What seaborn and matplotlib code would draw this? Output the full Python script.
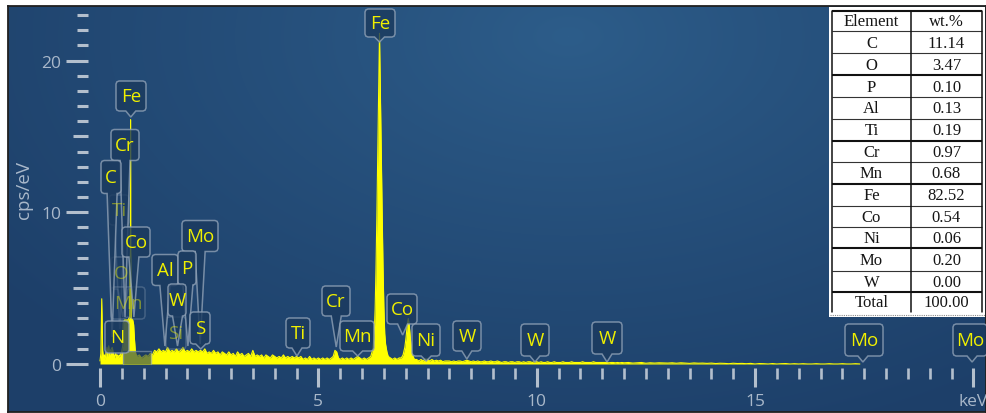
import numpy as np
import pandas as pd
import matplotlib
matplotlib.use("Agg")
import matplotlib.pyplot as plt
from matplotlib.path import Path
from matplotlib.patches import PathPatch, Rectangle
from matplotlib.transforms import IdentityTransform
from matplotlib.lines import Line2D
import seaborn as sns

# ---------------- EDS spectrum (energy in keV, intensity in cps/eV) ----------------
# zero peak and light-element region, 0.02 keV channels from 0 keV
low_start, low_step = 0.00, 0.02
counts_low = [0.2, 0.7, 4.3, 0.9, 0.4, 0.6, 0.3, 0.8, 1.1, 0.5,
              1.2, 0.6, 0.9, 1.0, 1.1, 0.8, 0.6, 0.4, 0.7, 0.5,
              0.6, 0.4, 0.6, 0.5, 0.7, 0.9]

# L-line shoulder with the narrow Fe L line
energy_feL = [0.52, 0.53, 0.56, 0.60, 0.64, 0.68, 0.69, 0.697, 0.700, 0.703,
              0.71, 0.72, 0.75, 0.77, 0.79, 0.81, 0.83]
counts_feL = [1.2, 2.7, 2.9, 2.9, 2.9, 3.1, 6.8, 7.4, 16.1, 7.4,
              6.5, 3.0, 2.9, 2.6, 1.6, 0.8, 0.6]

# continuum 0.85 - 5.20 keV, 0.05 keV channels
mid_start, mid_step = 0.85, 0.05
counts_mid = [0.5, 0.6, 0.4, 0.5, 0.6, 0.5, 0.7, 0.6, 0.9, 0.8,
              1.0, 0.8, 0.9, 0.8, 1.1, 0.8, 0.9, 0.8, 1.0, 0.8,
              0.9, 1.1, 0.8, 0.9, 0.8, 1.0, 0.8, 0.9, 0.8, 0.9,
              0.8, 1.0, 0.7, 0.8, 0.7, 0.9, 0.7, 0.8, 0.6, 0.8,
              0.7, 0.6, 0.8, 0.6, 0.7, 0.5, 0.8, 0.6, 0.7, 0.5,
              0.6, 0.7, 0.5, 0.9, 0.5, 0.6, 0.5, 0.6, 0.4, 0.6,
              0.5, 0.4, 0.6, 0.5, 0.4, 0.5, 0.4, 0.6, 0.4, 0.5,
              0.4, 0.5, 0.4, 0.5, 0.4, 0.5, 0.3, 0.4, 0.3, 0.5,
              0.3, 0.4, 0.3, 0.4, 0.3, 0.4, 0.3, 0.4]

# K-line region: Cr Ka, Mn Ka, Fe Ka, Fe Kb / Co Ka, Ni Ka
energy_k = [5.25, 5.30, 5.34, 5.38, 5.42, 5.46, 5.50, 5.55, 5.60, 5.65,
            5.70, 5.75, 5.80, 5.85, 5.90, 5.95, 6.00, 6.05, 6.10, 6.15,
            6.20, 6.24, 6.26, 6.28, 6.30, 6.32, 6.34, 6.36, 6.38, 6.40,
            6.42, 6.44, 6.46, 6.48, 6.50, 6.52, 6.54, 6.57, 6.60, 6.65,
            6.70, 6.75, 6.80, 6.85, 6.90, 6.94, 6.98, 7.01, 7.04, 7.06,
            7.08, 7.11, 7.14, 7.17, 7.20, 7.25, 7.30, 7.35, 7.40, 7.45,
            7.50, 7.55, 7.60, 7.65, 7.70, 7.75, 7.80, 7.85, 7.90, 7.95]
counts_k = [0.3, 0.4, 0.5, 0.9, 0.8, 0.4, 0.3, 0.4, 0.3, 0.4,
            0.3, 0.4, 0.3, 0.4, 0.5, 0.4, 0.3, 0.4, 0.3, 0.4,
            0.5, 0.9, 1.4, 2.0, 3.6, 6.3, 9.8, 13.9, 17.8, 21.8,
            17.9, 14.0, 10.0, 6.5, 3.8, 2.0, 1.3, 0.8, 0.5, 0.4,
            0.3, 0.4, 0.3, 0.4, 0.4, 0.6, 1.1, 1.8, 2.7, 3.0,
            2.6, 1.6, 0.8, 0.5, 0.3, 0.3, 0.2, 0.3, 0.2, 0.35,
            0.3, 0.2, 0.3, 0.2, 0.25, 0.2, 0.25, 0.15, 0.2, 0.2]

# tail 8.00 - 11.95 keV, 0.05 keV channels
tail_start, tail_step = 8.00, 0.05
counts_tail = [0.2, 0.15, 0.2, 0.15, 0.2, 0.2, 0.15, 0.2, 0.25, 0.2,
               0.15, 0.2, 0.15, 0.2, 0.15, 0.15, 0.2, 0.15, 0.15, 0.2,
               0.15, 0.15, 0.2, 0.15, 0.1, 0.15, 0.15, 0.1, 0.15, 0.15,
               0.1, 0.15, 0.15, 0.1, 0.15, 0.1, 0.15, 0.15, 0.1, 0.15,
               0.15, 0.1, 0.15, 0.1, 0.1, 0.15, 0.1, 0.1, 0.15, 0.1,
               0.1, 0.1, 0.15, 0.1, 0.1, 0.1, 0.15, 0.1, 0.1, 0.1,
               0.1, 0.15, 0.1, 0.1, 0.1, 0.1, 0.15, 0.1, 0.1, 0.1,
               0.1, 0.1, 0.1, 0.08, 0.1, 0.1, 0.08, 0.1, 0.08, 0.1]

# high-energy end 12.0 - 20.0 keV, 0.1 keV channels
high_start, high_step = 12.0, 0.1
counts_high = [0.08, 0.1, 0.06, 0.08, 0.1, 0.05, 0.08, 0.06, 0.08, 0.07,
               0.06, 0.08, 0.05, 0.08, 0.06, 0.04, 0.07, 0.05, 0.06, 0.04,
               0.06, 0.03, 0.05, 0.04, 0.02, 0.05, 0.03, 0.04, 0.02, 0.04,
               0.0, 0.03, 0.02, 0.0, 0.03, 0.0, 0.02, 0.03, 0.0, 0.02,
               0.0, 0.02, 0.0, 0.0, 0.02, 0.0, 0.0, 0.02, 0.0, 0.0,
               0.02, 0.0, 0.0, 0.02, 0.0, 0.0, 0.0, 0.0, 0.0, 0.0,
               0.0, 0.0, 0.0, 0.0, 0.0, 0.0, 0.0, 0.0, 0.0, 0.0,
               0.0, 0.0, 0.0, 0.0, 0.0, 0.0, 0.0, 0.0, 0.0, 0.0, 0.0]

# identified lines (element, line energy in keV); faint ones are shown dimmed
line_names = ["Ti", "O", "Mn", "Si",
              "Fe", "Cr", "C", "Co", "Mo", "Al", "P", "W", "S", "N",
              "Ti", "Cr", "Mn", "Fe", "Co", "Ni", "W", "W", "W", "Mo", "Mo"]
line_energy = [0.452, 0.525, 0.637, 1.740,
               0.705, 0.573, 0.277, 0.776, 2.293, 1.486, 2.013, 1.775, 2.307, 0.392,
               4.51, 5.41, 5.90, 6.40, 6.93, 7.47, 8.40, 9.96, 11.61, 17.47, 19.97]
line_faint = [True, True, True, True] + [False] * 21

# quantification table
table_elements = ["C", "O", "P", "Al", "Ti", "Cr", "Mn", "Fe", "Co", "Ni", "Mo", "W"]
table_wt = [11.14, 3.47, 0.10, 0.13, 0.19, 0.97, 0.68, 82.52, 0.54, 0.06, 0.20, 0.00]

x_ticks = [0, 5, 10, 15, 20]
x_ticklabels = ["0", "5", "10", "15", "keV"]
y_ticks = [0, 10, 20]

# ---------------- assemble the spectrum ----------------
energy = np.concatenate([
    low_start + low_step * np.arange(len(counts_low)),
    energy_feL,
    mid_start + mid_step * np.arange(len(counts_mid)),
    energy_k,
    tail_start + tail_step * np.arange(len(counts_tail)),
    high_start + high_step * np.arange(len(counts_high)),
])
counts = np.concatenate([counts_low, counts_feL, counts_mid, counts_k,
                         counts_tail, counts_high])
spec = pd.DataFrame({"energy": energy, "cps": counts})

# ---------------- style ----------------
sns.set_theme(style="dark")
plt.rcParams["font.family"] = ["Open Sans", "DejaVu Sans"]

W, H = 987, 414
fig = plt.figure(figsize=(W / 100, H / 100), dpi=100, facecolor="white")


def fx(px):
    return px / W


def fy(py):
    return (H - py) / H


# panel with a soft blue gradient
P_L, P_T, P_R, P_B = 8, 7, 986, 413
bg = fig.add_axes([fx(P_L), fy(P_B), fx(P_R - P_L), (P_B - P_T) / H])
gy, gx = np.mgrid[0:P_B - P_T, 0:P_R - P_L]
dist = np.sqrt(((gx - 560) / 720.0) ** 2 + ((gy - 30) / 430.0) ** 2)
dist = np.clip(dist, 0, 1) ** 0.9
c_in = np.array([45, 93, 138]) / 255.0
c_out = np.array([29, 63, 105]) / 255.0
grad = c_in + (c_out - c_in) * dist[..., None]
bg.imshow(grad, aspect="auto", interpolation="bilinear")
bg.set_xticks([])
bg.set_yticks([])
for s in bg.spines.values():
    s.set_color("#202020")
    s.set_linewidth(1.3)

# plotting axes: x 0 keV at px 100, 43.67 px per keV; y 0 at px 365, 15.17 px per cps/eV
X0, KX = 100.0, 43.67
Y0, KY = 365.0, 15.17
A_L, A_R, A_T, A_B = 88, 986, 7, 369
ax = fig.add_axes([fx(A_L), fy(A_B), fx(A_R - A_L), (A_B - A_T) / H])
ax.set_facecolor("none")
xlim = ((A_L - X0) / KX, (A_R - X0) / KX)
ylim = ((Y0 - A_B) / KY, (Y0 - A_T) / KY)
ax.set_xlim(xlim)
ax.set_ylim(ylim)
for s in ax.spines.values():
    s.set_visible(False)
ax.grid(False)

yellow = "#ffff00"
ax.fill_between(spec["energy"], spec["cps"], 0, color=yellow, lw=0, zorder=2)
sns.lineplot(data=spec[spec["energy"] <= 17.4], x="energy", y="cps", ax=ax,
             color=yellow, lw=0.8, errorbar=None, legend=False, zorder=3)

# ticks
tick_c = "#b3bfcd"
lab_c = "#a9b8ca"
ax.set_xticks(x_ticks)
ax.set_xticklabels(x_ticklabels)
ax.set_xticks([v for v in np.arange(0.5, 20.0, 0.5) if v % 5 != 0], minor=True)
ax.set_yticks(y_ticks)
ax.set_yticklabels([str(v) for v in y_ticks])
ax.set_yticks([v for v in range(1, 24) if v % 5 != 0], minor=True)
ax.tick_params(axis="x", which="both", bottom=True, top=False)
ax.tick_params(axis="y", which="both", left=True, right=False)
ax.tick_params(axis="x", which="major", direction="out", length=14, width=2.2,
               color=tick_c, pad=4, labelsize=12.5, labelcolor=lab_c)
ax.tick_params(axis="x", which="minor", direction="out", length=8, width=1.9,
               color=tick_c)
ax.tick_params(axis="y", which="major", direction="out", length=16, width=2.2,
               color=tick_c, pad=3, labelsize=12.5, labelcolor=lab_c)
ax.tick_params(axis="y", which="minor", direction="out", length=8, width=2.2,
               color=tick_c)
sec = ax.secondary_yaxis("left")
sec.set_yticks([5, 15])
sec.set_yticklabels([])
sec.tick_params(axis="y", which="major", left=True, length=11, width=2.2, color=tick_c)
sec.tick_params(axis="y", which="minor", length=0)
for s in sec.spines.values():
    s.set_visible(False)
ax.set_xlabel("")
ax.set_ylabel("cps/eV", fontsize=13.5, color=lab_c)
ax.yaxis.set_label_coords((33 - A_L) / (A_R - A_L), (A_B - 190) / (A_B - A_T))

# ---------------- peak callouts ----------------
callout_layout = [  # box centre x, centre y (px from top), width, height, tip y (px from top)
    (119, 211, 20, 30, 330), (121, 274, 20, 32, 318), (128, 304, 34, 32, 318),
    (176, 334, 20, 32, 350),
    (131, 97, 30, 30, 118), (125, 146, 28, 31, 318), (111, 178, 20, 33, 338),
    (136, 243, 28, 30, 318), (200, 237, 36, 31, 345), (165, 271, 26, 31, 347),
    (187, 269, 18, 34, 347), (177, 301, 18, 32, 347), (200, 329, 20, 32, 350),
    (117, 338, 24, 32, 354),
    (298, 334, 24, 30, 357), (336, 302, 28, 30, 348), (357, 337, 34, 30, 357),
    (380, 24, 30, 28, 43), (402, 310, 30, 30, 336), (426, 341, 28, 32, 362),
    (467, 337, 28, 30, 360), (535, 341, 28, 32, 363), (607, 339, 30, 32, 363),
    (864, 341, 38, 32, 363), (970, 341, 34, 32, 363),
]


def callout_path(cx, cy, w, h, tip_x, tip_y, r=3.0, half_base=5.0):
    left, right = cx - w / 2, cx + w / 2
    top, bot = cy + h / 2, cy - h / 2
    bc = min(max(tip_x, left + r + half_base), right - r - half_base)
    k = r * (1 - np.sqrt(0.5))
    v = [(left + r, top), (right - r, top), (right - k, top - k), (right, top - r),
         (right, bot + r), (right - k, bot + k), (right - r, bot),
         (bc + half_base, bot), (tip_x, tip_y), (bc - half_base, bot),
         (left + r, bot), (left + k, bot + k), (left, bot + r),
         (left, top - r), (left + k, top - k), (left + r, top)]
    v.append(v[0])
    return Path(v, closed=True)


ident = IdentityTransform()
for name, e, faint, (cx, cy, w, h, tip_py) in zip(line_names, line_energy,
                                                  line_faint, callout_layout):
    tip_x = ax.transData.transform((e, 0.0))[0]
    path = callout_path(cx, H - cy, w, h, tip_x, H - tip_py)
    a_face = 0.35 if faint else 0.8
    a_edge = 0.35 if faint else 0.8
    face = PathPatch(path, transform=ident, facecolor="#1b3a5e", edgecolor="none",
                     alpha=a_face, zorder=4 if faint else 5)
    edge = PathPatch(path, transform=ident, facecolor="none", edgecolor="#8fa1b6",
                     lw=1.1, alpha=a_edge, zorder=4 if faint else 5)
    ax.add_patch(face)
    ax.add_patch(edge)
    ax.text(cx, H - cy, name, transform=ident, ha="center", va="center",
            fontsize=13.5, color="#f0f000", alpha=0.45 if faint else 1.0,
            zorder=6, clip_on=True)

# partially hidden callout sitting on the baseline
ax.add_patch(Rectangle((123, H - 365), 28, 13, transform=ident, facecolor="#1b3a5e",
                       edgecolor="none", alpha=0.6, zorder=4))
ax.add_line(Line2D([123, 123, 151, 151], [H - 365, H - 352, H - 352, H - 365],
                   transform=ident, color="#8fa1b6", lw=1.0, alpha=0.6, zorder=4))

ax.set_xlim(xlim)
ax.set_ylim(ylim)

# ---------------- quantification table ----------------
T_L, T_R, T_T, T_B = 829, 985, 8, 318
tax = fig.add_axes([fx(T_L), fy(T_B), fx(T_R - T_L), (T_B - T_T) / H])
tax.set_xlim(T_L, T_R)
tax.set_ylim(T_B, T_T)
tax.axis("off")
tax.add_patch(Rectangle((T_L, T_T), T_R - T_L, T_B - T_T, facecolor="white",
                        edgecolor="none", zorder=0))
row_edges = [12, 32, 54, 76, 98, 120, 142, 163, 185, 207, 228, 249, 272, 293, 313]
thick_rows = {12, 76, 142, 185, 249, 293}
c_left, c_mid, c_right = 832, 911, 982
for yy in row_edges[:-1]:
    tax.plot([c_left, c_right], [yy, yy], color="#111111" if yy in thick_rows else "#333333",
             lw=1.5 if yy in thick_rows else 0.8, solid_capstyle="butt")
for xx in (c_left, c_mid, c_right):
    tax.plot([xx, xx], [row_edges[0], row_edges[-1]], color="#111111", lw=1.1)
tax.plot([T_L + 1, T_R], [315.5, 315.5], color="#8a8a8a", lw=0.8, ls=(0, (1, 1)))

rows = [("Element", "wt.%")] + [(el, f"{v:.2f}") for el, v in zip(table_elements, table_wt)]
rows.append(("Total", f"{sum(table_wt):.2f}"))
for i, (a, b) in enumerate(rows):
    yc = (row_edges[i] + row_edges[i + 1]) / 2 + 0.5
    tax.text((c_left + c_mid) / 2, yc, a, ha="center", va="center", fontsize=12,
             family="Liberation Serif", color="#151515")
    tax.text((c_mid + c_right) / 2, yc, b, ha="center", va="center", fontsize=12,
             family="Liberation Serif", color="#151515")

fig.savefig("out.png", dpi=100, facecolor="white")
